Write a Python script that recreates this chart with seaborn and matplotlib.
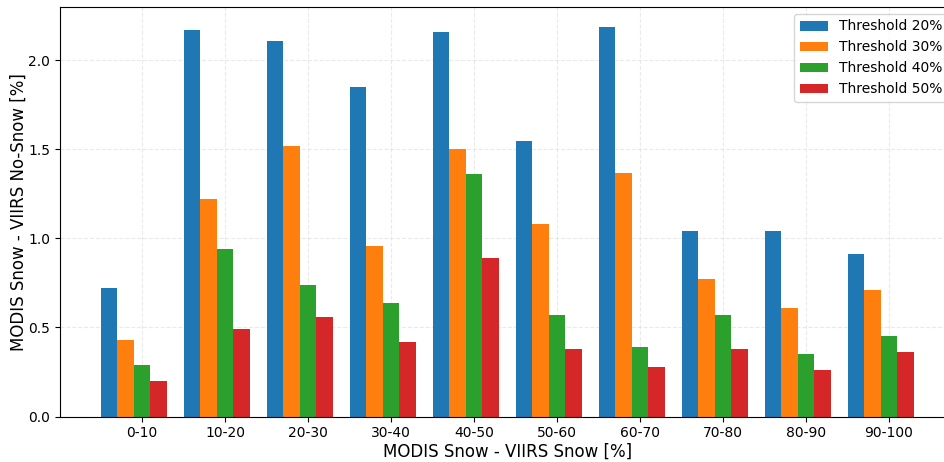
import numpy as np
import pandas as pd
import matplotlib
matplotlib.use("Agg")
import matplotlib.pyplot as plt
import seaborn as sns

# Bins of MODIS snow fraction minus VIIRS snow fraction
categories = ["0-10", "10-20", "20-30", "30-40", "40-50",
              "50-60", "60-70", "70-80", "80-90", "90-100"]

# Share of MODIS snow / VIIRS no-snow pixels [%] for each detection threshold
threshold_20 = [0.72, 2.17, 2.11, 1.85, 2.16, 1.55, 2.19, 1.04, 1.04, 0.91]
threshold_30 = [0.43, 1.22, 1.52, 0.96, 1.50, 1.08, 1.37, 0.77, 0.61, 0.71]
threshold_40 = [0.29, 0.94, 0.74, 0.64, 1.36, 0.57, 0.39, 0.57, 0.35, 0.45]
threshold_50 = [0.20, 0.49, 0.56, 0.42, 0.89, 0.38, 0.28, 0.38, 0.26, 0.36]

series_names = ["Threshold 20%", "Threshold 30%", "Threshold 40%", "Threshold 50%"]
series_values = [threshold_20, threshold_30, threshold_40, threshold_50]

df = pd.DataFrame(
    [(cat, name, val)
     for name, vals in zip(series_names, series_values)
     for cat, val in zip(categories, vals)],
    columns=["bin", "threshold", "value"],
)

colors = ["#1f77b4", "#ff7f0e", "#2ca02c", "#d62728"]

fig = plt.figure(figsize=(9.45, 4.62), dpi=100)
ax = fig.add_axes([60 / 945, 45.5 / 462, 894.6 / 945, 409.5 / 462])

sns.barplot(
    data=df, x="bin", y="value", hue="threshold",
    order=categories, hue_order=series_names,
    palette=colors, saturation=1, errorbar=None,
    width=0.8, gap=0, linewidth=0, ax=ax,
)

# Put the category tick under the third bar of each group
ticks = np.arange(len(categories)) + 0.1
ax.set_xticks(ticks, labels=categories)
ax.set_xlim(0.1 - 0.988, 9.89)
ax.set_ylim(0, 2.30)
ax.set_yticks([0.0, 0.5, 1.0, 1.5, 2.0], labels=["0.0", "0.5", "1.0", "1.5", "2.0"])

ax.tick_params(axis="both", labelsize=10)
ax.set_xlabel("MODIS Snow - VIIRS Snow [%]", fontsize=12, labelpad=2)
ax.set_ylabel("MODIS Snow - VIIRS No-Snow [%]", fontsize=12, labelpad=0.5)

ax.grid(True, linestyle="--", linewidth=0.8, color="#dddddd", alpha=0.6)
ax.set_axisbelow(True)

leg = ax.legend(loc="upper right", fontsize=10, title=None, frameon=True)
leg.get_frame().set_edgecolor("#cccccc")

fig.savefig("out.png", dpi=100)
